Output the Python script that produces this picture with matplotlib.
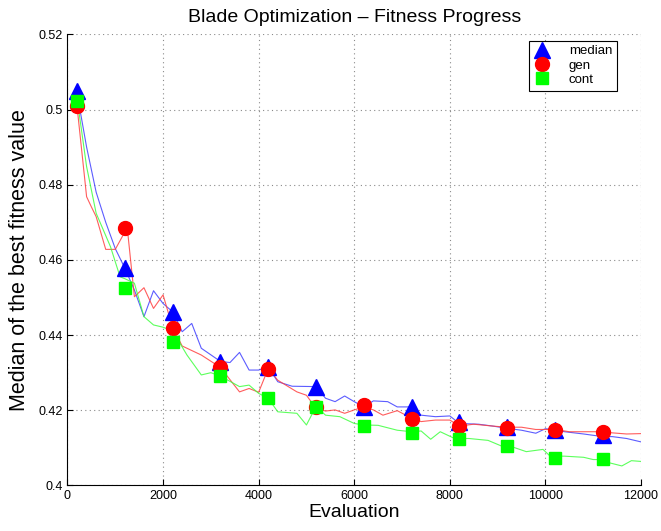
import matplotlib
matplotlib.use('Agg')
import matplotlib.pyplot as plt

plt.rcParams['font.family'] = ['Liberation Sans', 'DejaVu Sans']

# marker samples every 1000 evaluations
mark_x = [200, 1200, 2200, 3200, 4200, 5200, 6200, 7200, 8200, 9200, 10200, 11200]
median_m = [0.5050, 0.4578, 0.4462, 0.4329, 0.4316, 0.4263, 0.4209, 0.4210, 0.4169, 0.4156, 0.4147, 0.4134]
gen_m = [0.5009, 0.4686, 0.4420, 0.4314, 0.4311, 0.4210, 0.4214, 0.4176, 0.4159, 0.4152, 0.4148, 0.4143]
cont_m = [0.5022, 0.4526, 0.4382, 0.4291, 0.4232, 0.4210, 0.4158, 0.4139, 0.4124, 0.4106, 0.4072, 0.4071]

# traced curves
median_x = [200, 400, 600, 800, 1000, 1200, 1400, 1600, 1800, 2000, 2200, 2400, 2600, 2800,
            3200, 3400, 3600, 3800, 4000, 4200, 4400, 4700, 5200, 5400, 5600, 5800, 6000,
            6200, 6400, 6700, 6900, 7200, 7400, 7700, 8000, 8200, 8600, 8900, 9200, 9500,
            9800, 10000, 10200, 10400, 10800, 11200, 11400, 11700, 12000]
median_y = [0.5043, 0.4900, 0.4780, 0.4700, 0.4630, 0.4578, 0.4520, 0.4449, 0.4518, 0.4484,
            0.4462, 0.4409, 0.4431, 0.4365, 0.4330, 0.4327, 0.4354, 0.4307, 0.4307, 0.4316,
            0.4276, 0.4264, 0.4263, 0.4232, 0.4223, 0.4238, 0.4223, 0.4209, 0.4225, 0.4223,
            0.4209, 0.4209, 0.4187, 0.4183, 0.4185, 0.4165, 0.4163, 0.4158, 0.4152, 0.4147,
            0.4139, 0.4151, 0.4148, 0.4143, 0.4137, 0.4130, 0.4130, 0.4125, 0.4116]

gen_x = [200, 400, 500, 600, 800, 1000, 1250, 1400, 1600, 1800, 2000, 2200, 2400, 2800,
         3200, 3600, 3800, 4000, 4200, 4400, 4800, 5000, 5200, 5400, 5600, 5800, 6000,
         6200, 6400, 6600, 6900, 7200, 7400, 7700, 8000, 8200, 8500, 8900, 9200, 9500,
         9800, 10200, 10500, 10800, 11200, 11400, 11700, 12000]
gen_y = [0.5008, 0.4768, 0.4741, 0.4715, 0.4628, 0.4628, 0.4686, 0.4502, 0.4526, 0.4471,
         0.4507, 0.4420, 0.4371, 0.4347, 0.4314, 0.4249, 0.4258, 0.4248, 0.4311, 0.4280,
         0.4249, 0.4240, 0.4205, 0.4198, 0.4201, 0.4192, 0.4201, 0.4209, 0.4201, 0.4187,
         0.4199, 0.4179, 0.4170, 0.4174, 0.4174, 0.4158, 0.4163, 0.4158, 0.4155, 0.4155,
         0.4149, 0.4149, 0.4143, 0.4143, 0.4143, 0.4140, 0.4137, 0.4138]

cont_x = [200, 400, 600, 900, 1100, 1200, 1400, 1600, 1800, 2000, 2200, 2500, 2800, 3000,
          3200, 3600, 3800, 4000, 4200, 4400, 4800, 5000, 5200, 5400, 5700, 6000, 6200,
          6500, 6900, 7200, 7400, 7600, 7800, 8100, 8400, 8800, 9100, 9300, 9600, 9950,
          10100, 10400, 10800, 11000, 11200, 11350, 11600, 11800, 12000]
cont_y = [0.5030, 0.4848, 0.4724, 0.4635, 0.4555, 0.4550, 0.4538, 0.4449, 0.4427, 0.4421,
          0.4411, 0.4347, 0.4294, 0.4300, 0.4291, 0.4263, 0.4267, 0.4245, 0.4232, 0.4196,
          0.4192, 0.4161, 0.4210, 0.4187, 0.4183, 0.4165, 0.4161, 0.4160, 0.4147, 0.4143,
          0.4145, 0.4123, 0.4143, 0.4125, 0.4125, 0.4120, 0.4104, 0.4103, 0.4090, 0.4096,
          0.4078, 0.4078, 0.4075, 0.4069, 0.4069, 0.4060, 0.4052, 0.4066, 0.4064]

fig = plt.figure(figsize=(6.61, 5.31), dpi=100)
ax = fig.add_axes([0.1021, 0.0857, 0.8676, 0.8497])

ax.plot(median_x, median_y, color='#4040ff', lw=0.8, alpha=0.85)
ax.plot(gen_x, gen_y, color='#ff4040', lw=0.8, alpha=0.85)
ax.plot(cont_x, cont_y, color='#40ff40', lw=0.8, alpha=0.85)

ax.plot(mark_x, median_m, '^', color='#0000ff', ms=11, mec='#0000ff', ls='none', label='median')
ax.plot(mark_x, gen_m, 'o', color='#ff0000', ms=10, mec='#ff0000', ls='none', label='gen')
ax.plot(mark_x, cont_m, 's', color='#00ff00', ms=8.5, mec='#00ff00', ls='none', label='cont')

ax.set_xlim(0, 12000)
ax.set_ylim(0.4, 0.52)
ax.set_xticks(range(0, 12001, 2000))
ax.set_yticks([0.4, 0.42, 0.44, 0.46, 0.48, 0.5, 0.52])
ax.set_yticklabels(['0.4', '0.42', '0.44', '0.46', '0.48', '0.5', '0.52'])
ax.tick_params(direction='in', labelsize=9, length=4)
ax.grid(True, ls=(0, (1, 3)), color='#8a8a8a', lw=0.8)
ax.spines['top'].set_visible(False)
ax.spines['right'].set_visible(False)

ax.set_title('Blade Optimization \u2013 Fitness Progress', fontsize=14, pad=9)
ax.set_xlabel('Evaluation', fontsize=14, labelpad=1)
ax.set_ylabel('Median of the best fitness value', fontsize=15.5, labelpad=6)

leg = ax.legend(loc='upper right', bbox_to_anchor=(0.958, 0.986), fontsize=9.5,
                fancybox=False, framealpha=1, edgecolor='black', handletextpad=1.4,
                borderpad=0.35, labelspacing=0.15, handlelength=1.3, borderaxespad=0)
leg.get_frame().set_linewidth(0.8)

fig.savefig('out.png', dpi=100)
